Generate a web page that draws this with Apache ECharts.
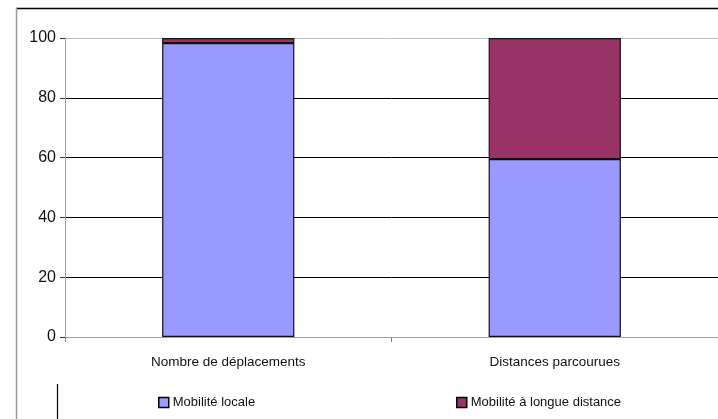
<!DOCTYPE html>
<html>
<head>
<meta charset="utf-8">
<script src="https://cdn.jsdelivr.net/npm/echarts@6/dist/echarts.min.js"></script>
<style>
  html, body { margin: 0; padding: 0; background: #fff; }
  #chart { width: 718px; height: 419px; }
</style>
</head>
<body>
<div id="chart"></div>
<script>
// Share of trips and of distance travelled, local vs long-distance mobility (%)
const categories = ['Nombre de déplacements', 'Distances parcourues'];
const mobiliteLocale = [98.3, 59.5];
const mobiliteLongue = [1.7, 40.5];
const yTicks = [0, 20, 40, 60, 80, 100];

const FONT = '"Liberation Sans", Arial, sans-serif';

const chart = echarts.init(document.getElementById('chart'), null, { renderer: 'canvas' });

const legendText = { color: '#111', fontSize: 13, fontFamily: FONT, padding: [0, 0, 0, -1] };

chart.setOption({
  animation: false,
  backgroundColor: '#ffffff',
  textStyle: { fontFamily: FONT },
  grid: { left: 65, right: 0, top: 38, bottom: 82, containLabel: false },
  xAxis: {
    type: 'category',
    data: categories,
    boundaryGap: true,
    axisLine: { lineStyle: { color: '#a0a0a0', width: 1 } },
    axisTick: { show: true, length: 5, lineStyle: { color: '#808080' } },
    axisLabel: { color: '#111', fontSize: 13.5, fontFamily: FONT, margin: 18 },
    splitLine: { show: false }
  },
  yAxis: {
    type: 'value',
    min: yTicks[0],
    max: yTicks[yTicks.length - 1],
    interval: 20,
    axisLine: { show: true, lineStyle: { color: '#a0a0a0', width: 1 } },
    axisTick: { show: true, length: 5, lineStyle: { color: '#333' } },
    axisLabel: { color: '#111', fontSize: 16, fontFamily: FONT, margin: 9 },
    splitLine: {
      show: true,
      lineStyle: { color: ['#a0a0a0', '#000', '#000', '#000', '#000', '#c0c0c0'], width: 1 }
    }
  },
  legend: [
    {
      data: ['Mobilité locale'],
      left: 153, top: 391,
      itemWidth: 10, itemHeight: 10, itemGap: 0,
      itemStyle: { borderColor: '#000', borderWidth: 1.5 },
      textStyle: legendText,
      icon: 'rect'
    },
    {
      data: ['Mobilité à longue distance'],
      left: 451, top: 391,
      itemWidth: 10, itemHeight: 10, itemGap: 0,
      itemStyle: { borderColor: '#000', borderWidth: 1.5 },
      textStyle: legendText,
      icon: 'rect'
    }
  ],
  series: [
    {
      name: 'Mobilité locale',
      type: 'bar',
      stack: 'total',
      data: mobiliteLocale,
      barWidth: '40.5%',
      itemStyle: { color: '#9999ff', borderColor: '#111', borderWidth: 1.2 }
    },
    {
      name: 'Mobilité à longue distance',
      type: 'bar',
      stack: 'total',
      data: mobiliteLongue,
      barWidth: '40.5%',
      itemStyle: { color: '#993366', borderColor: '#111', borderWidth: 1.2 }
    }
  ],
  graphic: [
    // outer chart frame: black top edge, grey left edge
    { type: 'line', shape: { x1: 16, y1: 8.5, x2: 718, y2: 8.5 }, style: { stroke: '#000', lineWidth: 1.5 }, silent: true },
    { type: 'line', shape: { x1: 16.5, y1: 8, x2: 16.5, y2: 419 }, style: { stroke: '#9a9a9a', lineWidth: 1.5 }, silent: true },
    // legend box left edge
    { type: 'line', shape: { x1: 57.5, y1: 384, x2: 57.5, y2: 419 }, style: { stroke: '#000', lineWidth: 1.2 }, silent: true }
  ]
});
</script>
</body>
</html>
